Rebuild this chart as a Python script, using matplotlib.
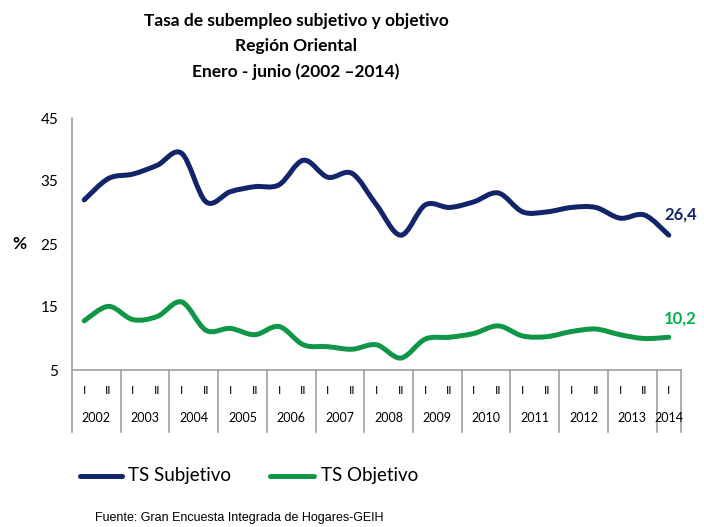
import numpy as np
import matplotlib
matplotlib.use("Agg")
import matplotlib.pyplot as plt
from matplotlib.path import Path
from matplotlib.patches import PathPatch
import matplotlib.transforms as mtransforms

# datos
years = ["2002", "2003", "2004", "2005", "2006", "2007", "2008",
         "2009", "2010", "2011", "2012", "2013", "2014"]
semesters = ["I", "II"] * 12 + ["I"]
subjetivo = [32.0, 35.4, 36.1, 37.5, 39.4, 31.7, 33.3, 34.1, 34.4, 38.3,
             35.6, 36.2, 31.2, 26.4, 31.2, 30.8, 31.7, 33.1, 30.1, 30.1,
             30.8, 30.8, 29.1, 29.6, 26.4]
objetivo = [12.8, 15.1, 13.0, 13.5, 15.8, 11.3, 11.6, 10.6, 11.9, 9.0,
            8.7, 8.3, 9.0, 6.9, 9.9, 10.2, 10.8, 12.0, 10.4, 10.3,
            11.1, 11.5, 10.6, 10.0, 10.2]

navy = "#12246a"
green = "#0f9646"
green_lbl = "#00b050"

plt.rcParams['font.family'] = ['Lato', 'DejaVu Sans']

fig = plt.figure(figsize=(7.04, 5.27), dpi=100)
ax = fig.add_axes([72 / 704, 1 - 370 / 527, 609 / 704, 252 / 527])


def smooth_path(xs, ys):
    # curva suave tipo Excel (Catmull-Rom -> Bezier)
    pts = np.column_stack([xs, ys]).astype(float)
    n = len(pts)
    verts = [pts[0]]
    codes = [Path.MOVETO]
    for i in range(n - 1):
        p0 = pts[max(i - 1, 0)]
        p1 = pts[i]
        p2 = pts[i + 1]
        p3 = pts[min(i + 2, n - 1)]
        c1 = p1 + (p2 - p0) / 6
        c2 = p2 - (p3 - p1) / 6
        verts += [c1, c2, p2]
        codes += [Path.CURVE4] * 3
    return Path(verts, codes)


x = np.arange(len(semesters))
for vals, col in [(subjetivo, navy), (objetivo, green)]:
    ax.add_patch(PathPatch(smooth_path(x, vals), facecolor="none",
                           edgecolor=col, lw=3.6, capstyle="round",
                           joinstyle="round"))

ax.set_xlim(-0.5, len(semesters) - 0.5)
ax.set_ylim(5, 45)
ax.set_yticks([5, 15, 25, 35, 45])
ax.tick_params(axis="y", length=0, labelsize=11, pad=10)
ax.set_xticks([])
for s in ["top", "right"]:
    ax.spines[s].set_visible(False)
for s in ["left", "bottom"]:
    ax.spines[s].set_color("#a0a0a0")
    ax.spines[s].set_linewidth(1.2)

ax.text(-0.087, 0.5, "%", transform=ax.transAxes, fontsize=12.5,
        fontweight="bold", ha="center", va="center")

# eje de categorías de dos niveles
trans = mtransforms.blended_transform_factory(ax.transData, ax.transAxes)
px = 1 / 252
for i, s in enumerate(semesters):
    ax.text(i, -20 * px, s, transform=trans, ha="center", va="center",
            fontsize=8.5)
bounds = list(range(0, len(semesters), 2)) + [len(semesters)]
for b in bounds:
    ax.plot([b - 0.5, b - 0.5], [0, -62 * px], transform=trans,
            color="#a0a0a0", lw=1.2, clip_on=False)
for j, yr in enumerate(years):
    lo = bounds[j] - 0.5
    hi = bounds[j + 1] - 0.5
    ax.text((lo + hi) / 2, -48 * px, yr, transform=trans, ha="center",
            va="center", fontsize=9)

# etiquetas del último valor
ax.text(len(semesters) - 1.2, subjetivo[-1] + 3.3,
        f"{subjetivo[-1]:.1f}".replace(".", ","), color=navy,
        fontsize=12, fontweight="bold", ha="left", va="center",
        clip_on=False)
ax.text(len(semesters) - 1.2, objetivo[-1] + 3.0,
        f"{objetivo[-1]:.1f}".replace(".", ","), color=green_lbl,
        fontsize=12, fontweight="bold", ha="left", va="center",
        clip_on=False)

# título
fs_t = 12.5
fig.text(296 / 704, 1 - 21 / 527, "Tasa de subempleo subjetivo y objetivo",
         ha="center", va="center", fontsize=fs_t, fontweight="bold")
fig.text(296 / 704, 1 - 46 / 527, "Región Oriental",
         ha="center", va="center", fontsize=fs_t, fontweight="bold")
fig.text(296 / 704, 1 - 72 / 527, "Enero - junio (2002 \u20132014)",
         ha="center", va="center", fontsize=fs_t, fontweight="bold")

# leyenda
ly = 1 - 476 / 527
fig.add_artist(plt.Line2D([80 / 704, 122 / 704], [ly, ly], color=navy,
                          lw=3.6, solid_capstyle="round"))
fig.text(128 / 704, ly, "TS Subjetivo", ha="left", va="center", fontsize=13.5)
fig.add_artist(plt.Line2D([270 / 704, 314 / 704], [ly, ly], color=green,
                          lw=3.6, solid_capstyle="round"))
fig.text(321 / 704, ly, "TS Objetivo", ha="left", va="center", fontsize=13.5)

fig.text(95 / 704, 1 - 518 / 527, "Fuente: Gran Encuesta Integrada de Hogares-GEIH",
         ha="left", va="center", fontsize=9, family="Liberation Sans")

fig.savefig("out.png", dpi=100)
